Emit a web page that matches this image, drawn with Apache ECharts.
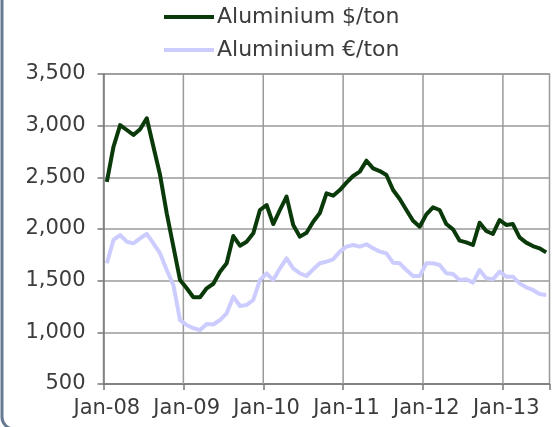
<!DOCTYPE html>
<html>
<head>
<meta charset="utf-8">
<script src="https://cdn.jsdelivr.net/npm/echarts@6/dist/echarts.min.js"></script>
<style>
  html, body { margin: 0; padding: 0; background: #ffffff; }
  #chart { width: 558px; height: 427px; }
</style>
</head>
<body>
<div id="chart"></div>
<script>
// Monthly aluminium prices, Jan 2008 – Jul 2013
const monthNames = ['Jan','Feb','Mar','Apr','May','Jun','Jul','Aug','Sep','Oct','Nov','Dec'];
const years = ['08','09','10','11','12','13'];
const monthCount = 67;

const seriesNames = ['Aluminium $/ton', 'Aluminium €/ton'];

const usdPerTon = [
  2457, 2796, 3006, 2958, 2910, 2965, 3071, 2796, 2522, 2152, 1829, 1506,
  1426, 1339, 1339, 1426, 1470, 1587, 1668, 1932, 1838, 1877, 1958, 2184,
  2232, 2048, 2184, 2313, 2039, 1926, 1964, 2071, 2155, 2345, 2322, 2377,
  2448, 2513, 2555, 2661, 2587, 2561, 2522, 2377, 2290, 2184, 2080, 2022,
  2142, 2210, 2184, 2048, 1997, 1887, 1871, 1845, 2061, 1981, 1952, 2087,
  2039, 2048, 1919, 1868, 1835, 1813, 1774
];

const eurPerTon = [
  1668, 1894, 1942, 1877, 1861, 1910, 1952, 1861, 1764, 1603, 1458, 1119,
  1071, 1039, 1023, 1081, 1076, 1119, 1184, 1345, 1255, 1265, 1313, 1506,
  1571, 1506, 1619, 1716, 1619, 1571, 1545, 1610, 1668, 1684, 1707, 1781,
  1829, 1845, 1829, 1852, 1813, 1781, 1764, 1674, 1668, 1603, 1545, 1545,
  1668, 1668, 1652, 1571, 1565, 1506, 1513, 1481, 1603, 1523, 1513, 1587,
  1539, 1539, 1474, 1436, 1410, 1371, 1361
];

const yTicks = { min: 500, max: 3500, step: 500 };

// Month labels such as "Jan-08"
const categories = [];
for (let i = 0; i < monthCount; i++) {
  categories.push(monthNames[i % 12] + '-' + years[Math.floor(i / 12)]);
}

const yearInterval = 11;
const gridGrey = '#9a9a9a';
const axisGrey = '#7a7a7a';
const textGrey = '#3c3c3c';
const fontFamily = 'DejaVu Sans, Verdana, sans-serif';

const chart = echarts.init(document.getElementById('chart'), null, { renderer: 'canvas' });

const frame = {
  type: 'rect',
  id: 'frame',
  shape: { x: 2, y: -40, width: 700, height: 469, r: 12 },
  style: { fill: 'none', stroke: '#667a93', lineWidth: 3 },
  silent: true
};

chart.setOption({
  backgroundColor: '#ffffff',
  animation: false,
  graphic: [frame],
  legend: {
    orient: 'vertical',
    left: 159,
    top: 1,
    itemWidth: 50,
    itemHeight: 4,
    itemGap: 11,
    icon: 'rect',
    textStyle: { fontFamily: fontFamily, fontSize: 22, color: textGrey, lineHeight: 22, padding: [0, 0, 0, -2] },
    data: seriesNames
  },
  grid: {
    left: 103.5,
    right: 8.5,
    top: 74,
    bottom: 43,
    show: true,
    borderColor: gridGrey,
    borderWidth: 1.5
  },
  xAxis: {
    type: 'category',
    data: categories,
    boundaryGap: true,
    axisLine: { show: true, lineStyle: { color: axisGrey, width: 1.5 } },
    axisTick: { show: true, interval: yearInterval, length: 6, lineStyle: { color: axisGrey, width: 1.5 } },
    axisLabel: {
      interval: yearInterval,
      margin: 14,
      color: textGrey,
      fontFamily: fontFamily,
      fontSize: 21
    },
    splitLine: { show: false }
  },
  yAxis: {
    type: 'value',
    min: yTicks.min,
    max: yTicks.max,
    interval: yTicks.step,
    axisLine: { show: true, lineStyle: { color: axisGrey, width: 1.5 } },
    axisTick: { show: true, length: 6, lineStyle: { color: axisGrey, width: 1.5 } },
    axisLabel: {
      margin: 18,
      color: textGrey,
      fontFamily: fontFamily,
      fontSize: 21,
      formatter: function (v) { return v.toLocaleString('en-US'); }
    },
    splitLine: { show: true, lineStyle: { color: gridGrey, width: 1.5 } }
  },
  series: [
    {
      name: seriesNames[0],
      type: 'line',
      data: usdPerTon,
      symbol: 'none',
      color: '#0a3a0a',
      lineStyle: { width: 4, color: '#0a3a0a', join: 'round' },
      z: 3
    },
    {
      name: seriesNames[1],
      type: 'line',
      data: eurPerTon,
      symbol: 'none',
      color: '#ccccff',
      lineStyle: { width: 4, color: '#ccccff', join: 'round' },
      z: 2
    }
  ]
});

// Yearly vertical grid lines on the boundary before each January,
// positioned through the chart's own coordinate conversion.
const yearLines = [];
for (let i = 12; i < monthCount; i += 12) {
  const here = chart.convertToPixel({ gridIndex: 0 }, [categories[i], yTicks.max]);
  const prev = chart.convertToPixel({ gridIndex: 0 }, [categories[i - 1], yTicks.min]);
  const x = (here[0] + prev[0]) / 2;
  yearLines.push({
    type: 'line',
    silent: true,
    z: 1,
    shape: { x1: x, y1: here[1], x2: x, y2: prev[1] },
    style: { stroke: gridGrey, lineWidth: 1.5 }
  });
}
chart.setOption({ graphic: [frame].concat(yearLines) }, { replaceMerge: ['graphic'] });
</script>
</body>
</html>
